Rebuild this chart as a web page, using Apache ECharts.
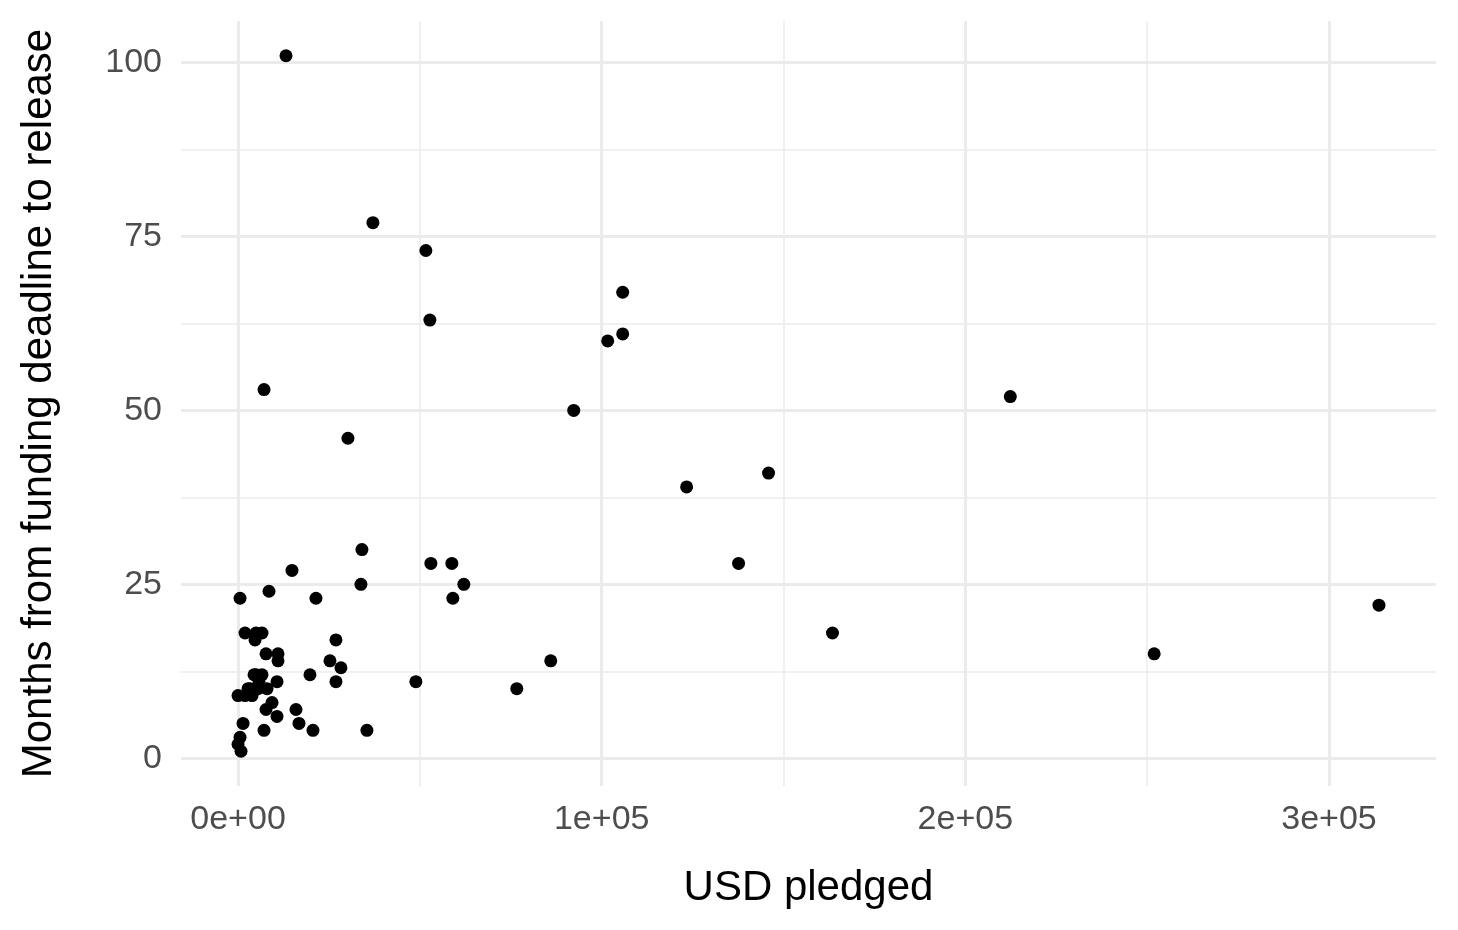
<!DOCTYPE html>
<html><head><meta charset="utf-8">
<script src="https://cdn.jsdelivr.net/npm/echarts@6/dist/echarts.min.js"></script>
<style>html,body{margin:0;padding:0;background:#fff}#c{width:1458px;height:930px}</style>
</head><body><div id="c"></div>
<script>
const usdPledged = [13187,37088,51648,52747,105769,101648,105769,7143,92308,212363,30220,123352,145879,34066,137637,14835,53022,58791,62088,59066,33791,549,8516,21429,313736,163462,1923,4945,6593,4670,26923,7692,10989,10989,25275,85989,251923,28297,19780,4945,6593,5769,10714,26923,48901,76648,5495,7967,3297,2747,0,1923,3846,9341,7692,15934,10714,1374,16758,7143,20604,35440,549,0,824,4396];
const monthsToRelease = [101,77,73,63,67,60,61,53,50,52,46,39,41,30,28,27,28,28,25,23,25,23,24,23,22,18,18,18,18,17,17,15,15,14,14,14,15,13,12,12,12,11,11,11,11,10,10,10,10,10,9,9,9,8,7,7,6,5,5,4,4,4,3,2,1,12];
const xMajor = [0,100000,200000,300000];
const xMinor = [50000,150000,250000];
const yMajor = [0,25,50,75,100];
const yMinor = [12.5,37.5,62.5,87.5];
const xTickLabels = ['0e+00','1e+05','2e+05','3e+05'];
const yTickLabels = ['0','25','50','75','100'];

const points = usdPledged.map((v,i)=>[v,monthsToRelease[i]]);
const xSpan = Math.max(...usdPledged)-Math.min(...usdPledged);
const ySpan = Math.max(...monthsToRelease)-Math.min(...monthsToRelease);
const xMin = Math.min(...usdPledged)-0.05*xSpan, xMax = Math.max(...usdPledged)+0.05*xSpan;
const yMin = Math.min(...monthsToRelease)-0.05*ySpan, yMax = Math.max(...monthsToRelease)+0.05*ySpan;

const gridLines = [];
xMinor.forEach(v=>gridLines.push({xAxis:v,lineStyle:{width:1.5,color:'#ebebeb',type:'solid'}}));
yMinor.forEach(v=>gridLines.push({yAxis:v,lineStyle:{width:1.5,color:'#ebebeb',type:'solid'}}));
xMajor.forEach(v=>gridLines.push({xAxis:v,lineStyle:{width:3,color:'#ebebeb',type:'solid'}}));
yMajor.forEach(v=>gridLines.push({yAxis:v,lineStyle:{width:3,color:'#ebebeb',type:'solid'}}));

const chart = echarts.init(document.getElementById('c'), null, {renderer:'canvas'});
chart.setOption({
  animation:false,
  backgroundColor:'#fff',
  textStyle:{fontFamily:'Liberation Sans, Arial, sans-serif'},
  grid:{left:181,right:22,top:21,bottom:144,containLabel:false},
  xAxis:{type:'value',min:xMin,max:xMax,
    name:'USD pledged',nameLocation:'middle',nameGap:81,
    nameTextStyle:{fontSize:42,color:'#000',fontFamily:'Liberation Sans'},
    axisLine:{show:false},axisTick:{show:false},splitLine:{show:false},
    axisLabel:{customValues:xMajor,fontSize:34,color:'#4d4d4d',margin:17,fontFamily:'Liberation Sans',
      formatter:(v)=>{const i=xMajor.indexOf(v);return i>=0?xTickLabels[i]:'';}}},
  yAxis:{type:'value',min:yMin,max:yMax,
    name:'Months from funding deadline to release',nameLocation:'middle',nameGap:121,nameRotate:90,
    nameTextStyle:{fontSize:42,color:'#000',fontFamily:'Liberation Sans'},
    axisLine:{show:false},axisTick:{show:false},splitLine:{show:false},
    axisLabel:{customValues:yMajor,fontSize:34,color:'#4d4d4d',margin:19,fontFamily:'Liberation Sans',
      formatter:(v)=>{const i=yMajor.indexOf(v);return i>=0?yTickLabels[i]:'';}}},
  series:[
    {type:'scatter',data:[],z:1,silent:true,
      markLine:{silent:true,symbol:'none',label:{show:false},animation:false,data:gridLines}},
    {type:'scatter',data:points,z:5,symbolSize:13,itemStyle:{color:'#000',opacity:1}}
  ]
});
</script></body></html>
